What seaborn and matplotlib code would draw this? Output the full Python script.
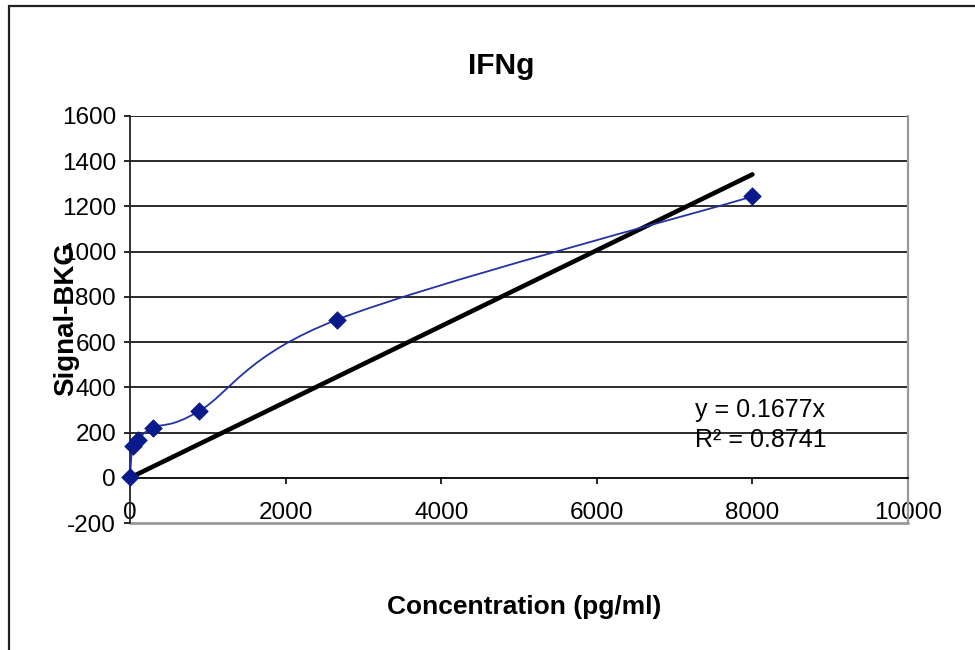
import numpy as np
import pandas as pd
import matplotlib
matplotlib.use("Agg")
import matplotlib.pyplot as plt
import seaborn as sns
from matplotlib.path import Path
from matplotlib.patches import PathPatch, Rectangle

# standard curve, 3-fold dilutions
conc = [0, 32.9, 98.8, 296.3, 888.9, 2666.7, 8000]
signal = [5, 139, 168, 222, 295, 700, 1244]
slope = 0.1677
r2 = 0.8741
trend_x = [0, 8000]

xticks = [0, 2000, 4000, 6000, 8000, 10000]
yticks = [-200, 0, 200, 400, 600, 800, 1000, 1200, 1400, 1600]

sns.set_theme(style="white")
plt.rcParams["font.family"] = ["Liberation Sans", "DejaVu Sans"]
plt.rcParams["axes.unicode_minus"] = False
plt.rcParams["text.color"] = "black"
plt.rcParams["axes.labelcolor"] = "black"
plt.rcParams["xtick.color"] = "black"
plt.rcParams["ytick.color"] = "black"

df = pd.DataFrame({"conc": conc, "signal": signal})
trend = pd.DataFrame({"x": trend_x, "y": [slope * v for v in trend_x]})


def smooth_path(xs, ys):
    # excel-like smoothed line: cubic bezier, catmull-rom control points
    pts = np.column_stack([xs, ys]).astype(float)
    n = len(pts)
    verts = [pts[0]]
    codes = [Path.MOVETO]
    for i in range(n - 1):
        p0 = pts[max(i - 1, 0)]
        p1 = pts[i]
        p2 = pts[i + 1]
        p3 = pts[min(i + 2, n - 1)]
        c1 = p1 + (p2 - p0) / 6.0
        c2 = p2 - (p3 - p1) / 6.0
        verts += [c1, c2, p2]
        codes += [Path.CURVE4] * 3
    return Path(verts, codes)


fig = plt.figure(figsize=(9.75, 6.5), dpi=100)
ax = fig.add_axes([130 / 975, 1 - 523 / 650, 778 / 975, 407 / 650])

# outer chart border
fig.patches.append(Rectangle((9 / 975, -0.05), 1.2, 1 - 6 / 650 + 0.05,
                             transform=fig.transFigure, fill=False,
                             edgecolor="#222222", lw=1.6))

for v in yticks[2:]:
    ax.axhline(v, color="#1a1a1a", lw=1.3, zorder=1)

sns.lineplot(data=trend, x="x", y="y", color="black", lw=3.3, ax=ax, zorder=3)
ax.add_patch(PathPatch(smooth_path(conc, signal), facecolor="none",
                       edgecolor="#2233a0", lw=1.3, zorder=4))
sns.scatterplot(data=df, x="conc", y="signal", marker="D", s=80,
                color="#0a1a8a", edgecolor="#0a1a8a", linewidth=0.5,
                ax=ax, zorder=5, clip_on=False)

ax.set_xlim(0, 10000)
ax.set_ylim(-200, 1600)
ax.set_xticks(xticks)
ax.set_yticks(yticks)

ax.spines["top"].set_visible(False)
ax.spines["bottom"].set_position(("data", 0))
ax.spines["bottom"].set_color("black")
ax.spines["bottom"].set_linewidth(1.3)
ax.spines["left"].set_color("#222222")
ax.spines["left"].set_linewidth(1.3)
ax.spines["right"].set_color("#999999")
ax.spines["right"].set_linewidth(1.6)
ax.axhline(-200, color="#999999", lw=2.0, zorder=1, clip_on=False)

ax.tick_params(axis="x", direction="out", length=4, width=1.2, color="black",
               pad=13.5, labelsize=17.5, bottom=True)
ax.tick_params(axis="y", direction="out", length=4, width=1.2, color="black",
               pad=6, labelsize=17.5, left=True)

ax.set_title("IFNg", fontsize=21.5, fontweight="bold", x=0.477, y=1.103, pad=0)
ax.set_xlabel("Concentration (pg/ml)", fontsize=19, fontweight="bold")
ax.set_ylabel("Signal-BKG", fontsize=20, fontweight="bold")
ax.xaxis.set_label_coords(0.507, -0.178)
ax.yaxis.set_label_coords(-0.066, 0.5)

ax.text(0.726, 0.278, f"y = {slope}x", transform=ax.transAxes,
        fontsize=18, va="center", ha="left", zorder=6)
ax.text(0.726, 0.205, f"R\u00b2 = {r2}", transform=ax.transAxes,
        fontsize=18, va="center", ha="left", zorder=6)

plt.savefig("out.png", dpi=100)
